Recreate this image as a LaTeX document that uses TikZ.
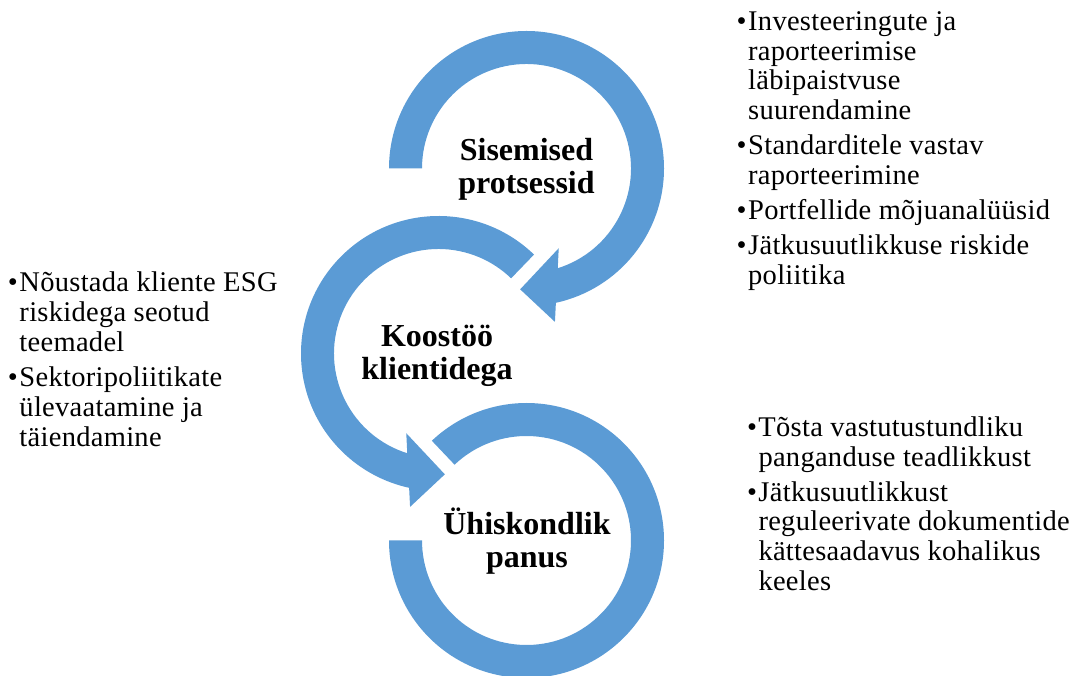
\documentclass[tikz,border=0pt]{standalone}
\usepackage{fontspec}
\setmainfont{Liberation Serif}
\newfontfamily\bodyfont[LetterSpace=1.0]{Liberation Serif}
\definecolor{ringblue}{HTML}{5B9BD5}
\newcommand{\bul}{\makebox[11.5pt][l]{•}}
\begin{document}
\begin{tikzpicture}[x=1pt,y=1pt,
  ring/.style={fill=ringblue,draw=none},
  title/.style={font=\fontsize{32}{33}\selectfont\bfseries, align=center, inner sep=0pt},
  bullets/.style={font=\bodyfont\fontsize{28.5}{29.7}\selectfont, inner sep=0pt, anchor=base west}]
\useasboundingbox (0,0) rectangle (1074,675);
% top ring with arrow head
\begin{scope}[shift={(526.5,506.5)}]
\fill[ring] (180:137.5) arc[start angle=180, end angle=-77.66, radius=137.5]
  -- (-79.5:156) -- (-93:121) -- (-68:86) -- (-72.6:104.5)
  arc[start angle=-72.6, end angle=180, radius=104.5] -- cycle;
\end{scope}
% middle ring with arrow head
\begin{scope}[shift={(438.5,321.5)}]
\fill[ring] (46:137.5) arc[start angle=46, end angle=257.66, radius=137.5]
  -- (259.5:156) -- (273:121) -- (248:86) -- (252.6:104.5)
  arc[start angle=252.6, end angle=46, radius=104.5] -- cycle;
\end{scope}
% bottom ring
\begin{scope}[shift={(526.5,134.5)}]
\fill[ring] (180:137.5) arc[start angle=180, end angle=493.5, radius=137.5]
  -- (493.5:104.5) arc[start angle=493.5, end angle=180, radius=104.5] -- cycle;
\end{scope}
% titles
\node[title] (t1) at (526.5,507.75) {\rule{0pt}{28pt}Sisemised\\protsessid\rule[-8pt]{0pt}{8pt}};
\node[title] (t2) at (437,321.7) {\rule{0pt}{28pt}Koostöö\\klientidega\rule[-8pt]{0pt}{8pt}};
\node[title] (t3) at (527,134) {\rule{0pt}{28pt}Ühiskondlik\\panus\rule[-8pt]{0pt}{8pt}};
% bullet texts
\node[bullets] (b1) at (736.5,644.5) {\bodyfont\fontsize{28.5}{29.7}\selectfont
\begin{tabular}[t]{@{}l@{}l@{}}
\bul & Investeeringute ja\\
 & raporteerimise\\
 & läbipaistvuse\\
 & suurendamine\\[5.5pt]
\bul & Standarditele vastav\\
 & raporteerimine\\[5.5pt]
\bul & Portfellide mõjuanalüüsid\\[5.5pt]
\bul & Jätkusuutlikkuse riskide\\
 & poliitika
\end{tabular}};
\node[bullets] (b2) at (7.8,383.3) {\bodyfont\fontsize{28.5}{29.7}\selectfont
\begin{tabular}[t]{@{}l@{}l@{}}
\bul & Nõustada kliente ESG\\
 & riskidega seotud\\
 & teemadel\\[6pt]
\bul & Sektoripoliitikate\\
 & ülevaatamine ja\\
 & täiendamine
\end{tabular}};
\node[bullets] (b3) at (746.8,238.3) {\bodyfont\fontsize{28.5}{29.7}\selectfont
\begin{tabular}[t]{@{}l@{}l@{}}
\bul & Tõsta vastutustundliku\\
 & panganduse teadlikkust\\[5pt]
\bul & Jätkusuutlikkust\\
 & reguleerivate dokumentide\\
 & kättesaadavus kohalikus\\
 & keeles
\end{tabular}};
\end{tikzpicture}
\end{document}
